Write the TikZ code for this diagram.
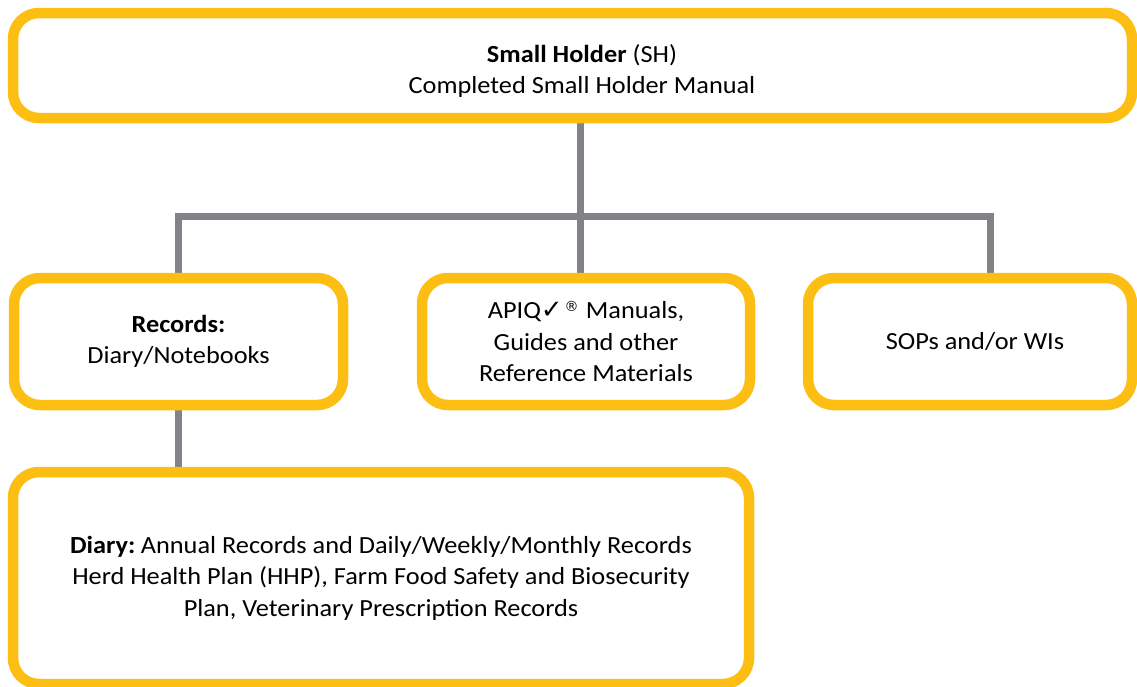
\documentclass[tikz,border=0pt]{standalone}
\usepackage{fontspec}
\setmainfont[FakeStretch=1.07]{Carlito}
\newfontfamily\dejavu{DejaVu Sans}
\usetikzlibrary{backgrounds}
\definecolor{boxyellow}{HTML}{FDBE13}
\definecolor{conngray}{HTML}{828387}
\tikzset{
  box/.style={draw=boxyellow, line width=10.5pt, rounded corners=26pt, fill=white,
    inner sep=0pt, align=center, text=black,
    font=\fontsize{24.6}{31.5}\selectfont},
  conn/.style={draw=conngray, line width=7pt, line join=miter, line cap=butt}
}
\begin{document}
\begin{tikzpicture}[x=1pt,y=-1pt]
\useasboundingbox (0,0) rectangle (1137,686);
\node[box, minimum width=1119pt, minimum height=105pt] (top) at (572.5,65.5) {};
\node[font=\fontsize{24.6}{31.5}\selectfont, align=center, inner sep=0pt] (toptext) at (582,71)
  {\textbf{Small Holder} (SH)\\Completed Small Holder Manual};
\node[box, minimum width=329pt, minimum height=127pt] (rec) at (178.5,341.5)
  {\textbf{Records:}\\Diary/Notebooks};
\node[box, minimum width=328pt, minimum height=127pt] (apiq) at (586,341.5)
  {APIQ{\dejavu\bfseries\fontsize{26}{31.5}\selectfont ✓}\hspace{0.08em}\raisebox{0.3em}{\dejavu\fontsize{14}{14}\selectfont ®}\hspace{0.05em} Manuals,\\Guides and other\\Reference Materials};
\node[box, minimum width=324pt, minimum height=127pt] (sop) at (970,341.5)
  {\hspace{10pt}SOPs and/or WIs};
\node[box, minimum width=736pt, minimum height=212pt] (diary) at (381,578)
  {\textbf{Diary:}\hspace{0.22em}Annual Records and Daily/Weekly/Monthly Records\\Herd Health Plan (HHP), Farm Food Safety and Biosecurity\\Plan, Veterinary Prescription Records};
\coordinate (jl) at (178.5,216.5);
\coordinate (jm) at (580.5,216.5);
\coordinate (jr) at (990,216.5);
\begin{pgfonlayer}{background}
\fill[white] (0,0) rectangle (1137,686);
\draw[conn] (top.south -| jm) -- (jm |- apiq.north);
\draw[conn] (rec.north) -- (jl) -- (jr) -- (jr |- sop.north);
\draw[conn] (rec.south) -- (rec.south |- diary.north);
\end{pgfonlayer}
\end{tikzpicture}
\end{document}
